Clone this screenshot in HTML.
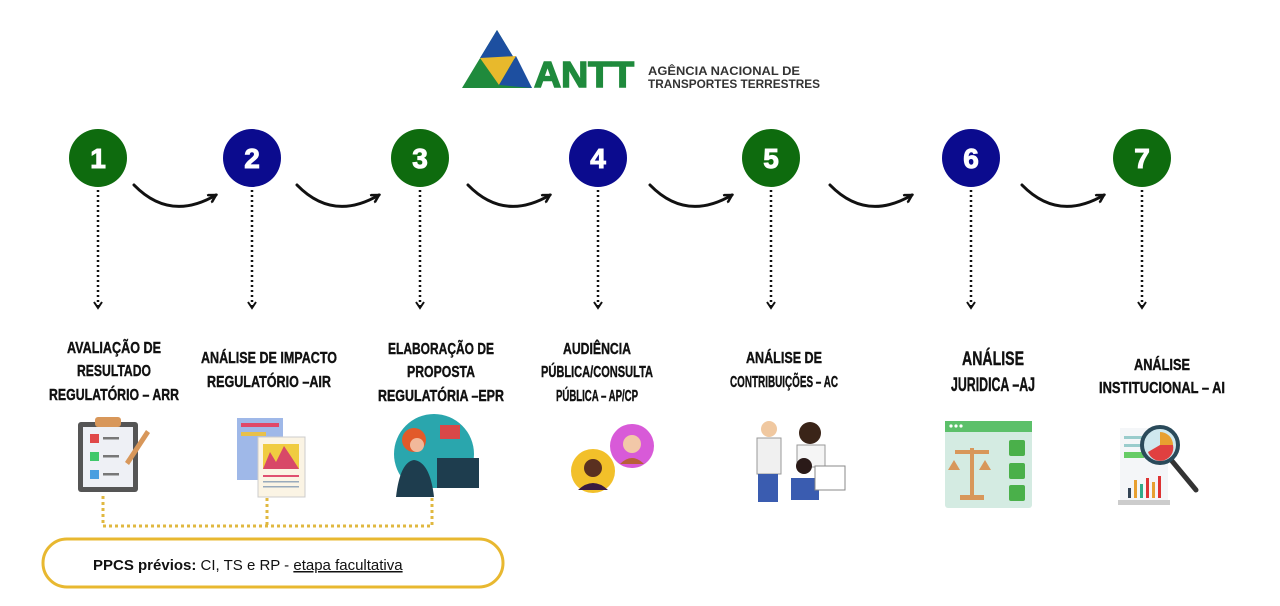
<!DOCTYPE html>
<html><head><meta charset="utf-8"><style>
html,body{margin:0;padding:0;background:#fff;}
svg{display:block}
.t{font-family:"Liberation Sans",sans-serif;font-weight:bold;font-size:16px;fill:#111;stroke:#111;stroke-width:0.4;text-anchor:middle;}
.n{font-family:"Liberation Sans",sans-serif;font-weight:900;font-size:28px;fill:#fff;stroke:#fff;stroke-width:1;text-anchor:middle;}
</style></head><body>
<svg width="1280" height="606" viewBox="0 0 1280 606" xmlns="http://www.w3.org/2000/svg">
<defs>
<marker id="ah" markerWidth="10" markerHeight="10" refX="8" refY="5" orient="auto" markerUnits="userSpaceOnUse">
<path d="M1,1 L8,5 L1,9" fill="none" stroke="#111" stroke-width="2.5" stroke-linecap="round"/></marker>
<marker id="dh" markerWidth="10" markerHeight="10" refX="8" refY="5" orient="auto" markerUnits="userSpaceOnUse">
<path d="M2,1 L8,5 L2,9" fill="none" stroke="#111" stroke-width="2" stroke-dasharray="none"/></marker>
</defs>
<!-- logo -->
<polygon points="462,88 497,30 532,88" fill="#1f8a3c"/>
<polygon points="480,58 497,30 514,58" fill="#1d4fa0"/>
<polygon points="480,58 516,56 499,85" fill="#e8b92c"/>
<polygon points="499,85 516,56 532,88" fill="#1d4fa0"/>
<text x="534" y="87" font-family="Liberation Sans,sans-serif" font-weight="900" font-size="36" fill="#1f8a3c" stroke="#1f8a3c" stroke-width="1.5" textLength="100" lengthAdjust="spacingAndGlyphs">ANTT</text>
<text x="648" y="75" font-family="Liberation Sans,sans-serif" font-weight="bold" font-size="11.5" fill="#333" textLength="152" lengthAdjust="spacingAndGlyphs">AGÊNCIA NACIONAL DE</text>
<text x="648" y="88" font-family="Liberation Sans,sans-serif" font-weight="bold" font-size="11.5" fill="#333" textLength="172" lengthAdjust="spacingAndGlyphs">TRANSPORTES TERRESTRES</text>

<!-- circles -->
<g>
<circle cx="98" cy="158" r="29" fill="#0e6b0e"/><text class="n" x="98" y="168">1</text>
<circle cx="252" cy="158" r="29" fill="#0b0b8e"/><text class="n" x="252" y="168">2</text>
<circle cx="420" cy="158" r="29" fill="#0e6b0e"/><text class="n" x="420" y="168">3</text>
<circle cx="598" cy="158" r="29" fill="#0b0b8e"/><text class="n" x="598" y="168">4</text>
<circle cx="771" cy="158" r="29" fill="#0e6b0e"/><text class="n" x="771" y="168">5</text>
<circle cx="971" cy="158" r="29" fill="#0b0b8e"/><text class="n" x="971" y="168">6</text>
<circle cx="1142" cy="158" r="29" fill="#0e6b0e"/><text class="n" x="1142" y="168">7</text>
</g>
<!-- curved arrows -->
<g fill="none" stroke="#111" stroke-width="3" stroke-linecap="round" marker-end="url(#ah)">
<path d="M134,185 Q170,222 216,195"/>
<path d="M297,185 Q333,222 379,195"/>
<path d="M468,185 Q504,222 550,195"/>
<path d="M650,185 Q686,222 732,195"/>
<path d="M830,185 Q866,222 912,195"/>
<path d="M1022,185 Q1058,222 1104,195"/>
</g>
<!-- dotted down -->
<g stroke="#111" stroke-width="2.5" stroke-dasharray="2,3" marker-end="url(#dh)">
<line x1="98" y1="190" x2="98" y2="308"/>
<line x1="252" y1="190" x2="252" y2="308"/>
<line x1="420" y1="190" x2="420" y2="308"/>
<line x1="598" y1="190" x2="598" y2="308"/>
<line x1="771" y1="190" x2="771" y2="308"/>
<line x1="971" y1="190" x2="971" y2="308"/>
<line x1="1142" y1="190" x2="1142" y2="308"/>
</g>
<!-- labels -->
<g>
<text class="t" x="114" y="353" textLength="94" lengthAdjust="spacingAndGlyphs">AVALIAÇÃO DE</text>
<text class="t" x="114" y="376" textLength="74" lengthAdjust="spacingAndGlyphs">RESULTADO</text>
<text class="t" x="114" y="400" textLength="130" lengthAdjust="spacingAndGlyphs">REGULATÓRIO – ARR</text>
<text class="t" x="269" y="363" textLength="136" lengthAdjust="spacingAndGlyphs">ANÁLISE DE IMPACTO</text>
<text class="t" x="269" y="387" textLength="124" lengthAdjust="spacingAndGlyphs">REGULATÓRIO –AIR</text>
<text class="t" x="441" y="354" textLength="106" lengthAdjust="spacingAndGlyphs">ELABORAÇÃO DE</text>
<text class="t" x="441" y="377" textLength="68" lengthAdjust="spacingAndGlyphs">PROPOSTA</text>
<text class="t" x="441" y="401" textLength="126" lengthAdjust="spacingAndGlyphs">REGULATÓRIA –EPR</text>
<text class="t" x="597" y="354" textLength="68" lengthAdjust="spacingAndGlyphs">AUDIÊNCIA</text>
<text class="t" x="597" y="377" textLength="112" lengthAdjust="spacingAndGlyphs">PÚBLICA/CONSULTA</text>
<text class="t" x="597" y="401" textLength="82" lengthAdjust="spacingAndGlyphs">PÚBLICA – AP/CP</text>
<text class="t" x="784" y="363" textLength="76" lengthAdjust="spacingAndGlyphs">ANÁLISE DE</text>
<text class="t" x="784" y="387" textLength="108" lengthAdjust="spacingAndGlyphs">CONTRIBUIÇÕES – AC</text>
<text class="t" x="993" y="365" style="font-size:19px" textLength="62" lengthAdjust="spacingAndGlyphs">ANÁLISE</text>
<text class="t" x="993" y="391" style="font-size:19px" textLength="84" lengthAdjust="spacingAndGlyphs">JURIDICA –AJ</text>
<text class="t" x="1162" y="370" textLength="56" lengthAdjust="spacingAndGlyphs">ANÁLISE</text>
<text class="t" x="1162" y="393" textLength="126" lengthAdjust="spacingAndGlyphs">INSTITUCIONAL – AI</text>
</g>
<!-- icon 1 clipboard -->
<rect x="78" y="422" width="60" height="70" rx="3" fill="#555"/>
<rect x="83" y="427" width="50" height="60" fill="#eef0f5"/>
<rect x="95" y="417" width="26" height="10" rx="3" fill="#d8975a"/>
<rect x="90" y="434" width="9" height="9" fill="#e04848"/><rect x="103" y="437" width="16" height="2.5" fill="#777"/>
<rect x="90" y="452" width="9" height="9" fill="#3fc86a"/><rect x="103" y="455" width="16" height="2.5" fill="#777"/>
<rect x="90" y="470" width="9" height="9" fill="#4a9ee0"/><rect x="103" y="473" width="16" height="2.5" fill="#777"/>
<path d="M125,462 L146,430 L150,433 L129,465 Z" fill="#d8975a"/>
<!-- icon 2 docs -->
<rect x="237" y="418" width="46" height="62" fill="#9fb8e8"/>
<rect x="241" y="423" width="38" height="4" fill="#e04868"/>
<rect x="241" y="432" width="25" height="4" fill="#e8c04a"/>
<rect x="258" y="437" width="47" height="60" fill="#fbf4e4" stroke="#ccc"/>
<rect x="263" y="444" width="36" height="25" fill="#f0cc40"/>
<path d="M263,469 L270,452 L276,462 L284,446 L292,458 L299,469 Z" fill="#d84868"/>
<rect x="263" y="475" width="36" height="2" fill="#e05070"/>
<rect x="263" y="481" width="36" height="1.5" fill="#9ab"/><rect x="263" y="486" width="36" height="1.5" fill="#9ab"/>
<!-- icon 3 person -->
<circle cx="434" cy="454" r="40" fill="#2aa6ad"/>
<rect x="392" y="488" width="88" height="9" fill="#fff"/>
<rect x="437" y="458" width="42" height="30" fill="#1e3d4e"/>
<rect x="440" y="425" width="20" height="14" fill="#d84848"/>
<circle cx="414" cy="440" r="12" fill="#e25a2a"/>
<path d="M396,497 Q400,462 414,460 Q430,462 434,497 Z" fill="#1e3d4e"/>
<circle cx="417" cy="445" r="7" fill="#f2b89a"/>
<!-- icon 4 bubbles -->
<circle cx="593" cy="471" r="22" fill="#f2c02a"/>
<circle cx="593" cy="468" r="9" fill="#5a3020"/>
<path d="M578,490 Q593,476 608,490 Z" fill="#3a1a40"/>
<circle cx="632" cy="446" r="22" fill="#d85ad8"/>
<circle cx="632" cy="444" r="9" fill="#f2c8a8"/>
<path d="M620,464 Q632,452 644,464 Z" fill="#b8603a"/>
<!-- icon 5 people -->
<rect x="757" y="438" width="24" height="36" fill="#f0f0f0" stroke="#999"/>
<circle cx="769" cy="429" r="8" fill="#f0c8a0"/>
<rect x="758" y="474" width="20" height="28" fill="#3a5cb0"/>
<circle cx="810" cy="433" r="11" fill="#3a2418"/>
<rect x="797" y="445" width="28" height="22" fill="#f5f5f5" stroke="#999"/>
<rect x="791" y="478" width="28" height="22" fill="#3a5cb0"/>
<circle cx="804" cy="466" r="8" fill="#2a1a18"/>
<rect x="815" y="466" width="30" height="24" fill="#fff" stroke="#888"/>
<!-- icon 6 window -->
<rect x="945" y="421" width="87" height="87" rx="3" fill="#d4ebe2"/>
<rect x="945" y="421" width="87" height="11" fill="#5cc06a"/>
<circle cx="951" cy="426" r="1.6" fill="#fff"/><circle cx="956" cy="426" r="1.6" fill="#fff"/><circle cx="961" cy="426" r="1.6" fill="#fff"/>
<rect x="1009" y="440" width="16" height="16" rx="2" fill="#4ab04a"/>
<rect x="1009" y="463" width="16" height="16" rx="2" fill="#4ab04a"/>
<rect x="1009" y="485" width="16" height="16" rx="2" fill="#4ab04a"/>
<rect x="970" y="448" width="4" height="50" fill="#d8975a"/>
<rect x="955" y="450" width="34" height="4" fill="#d8975a"/>
<rect x="960" y="495" width="24" height="5" fill="#d8975a"/>
<path d="M954,460 L960,470 L948,470 Z M985,460 L991,470 L979,470 Z" fill="#d8975a"/>
<!-- icon 7 chart -->
<rect x="1120" y="428" width="48" height="72" fill="#f4f6f8"/>
<rect x="1124" y="436" width="30" height="3" fill="#9cc"/><rect x="1124" y="444" width="40" height="3" fill="#9cc"/>
<rect x="1124" y="452" width="20" height="6" fill="#6c6"/>
<rect x="1128" y="488" width="3" height="10" fill="#345"/><rect x="1134" y="480" width="3" height="18" fill="#e8a030"/><rect x="1140" y="484" width="3" height="14" fill="#3a8"/><rect x="1146" y="478" width="3" height="20" fill="#d33"/><rect x="1152" y="482" width="3" height="16" fill="#e8a030"/><rect x="1158" y="476" width="3" height="22" fill="#d33"/>
<rect x="1118" y="500" width="52" height="5" fill="#ccc"/>
<line x1="1172" y1="461" x2="1196" y2="490" stroke="#333" stroke-width="5" stroke-linecap="round"/>
<circle cx="1160" cy="445" r="18" fill="#cfe8ee" stroke="#2a4a5a" stroke-width="4"/>
<path d="M1160,445 L1160,432 A13,13 0 0 1 1173,445 Z" fill="#e8a030"/>
<path d="M1160,445 L1173,445 A13,13 0 0 1 1148,452 Z" fill="#e04040"/>
<!-- yellow dotted -->
<g stroke="#e0b840" stroke-width="3" stroke-dasharray="3,3" fill="none">
<line x1="103" y1="496" x2="103" y2="526"/>
<line x1="267" y1="498" x2="267" y2="526"/>
<line x1="432" y1="498" x2="432" y2="526"/>
<line x1="103" y1="526" x2="432" y2="526"/>
</g>
<rect x="43" y="539" width="460" height="48" rx="24" fill="#fff" stroke="#e8b830" stroke-width="3"/>
<text x="93" y="570" font-family="Liberation Sans,sans-serif" font-size="15" fill="#111"><tspan font-weight="bold">PPCS prévios:</tspan> CI, TS e RP - <tspan text-decoration="underline">etapa facultativa</tspan></text>
</svg>
</body></html>
